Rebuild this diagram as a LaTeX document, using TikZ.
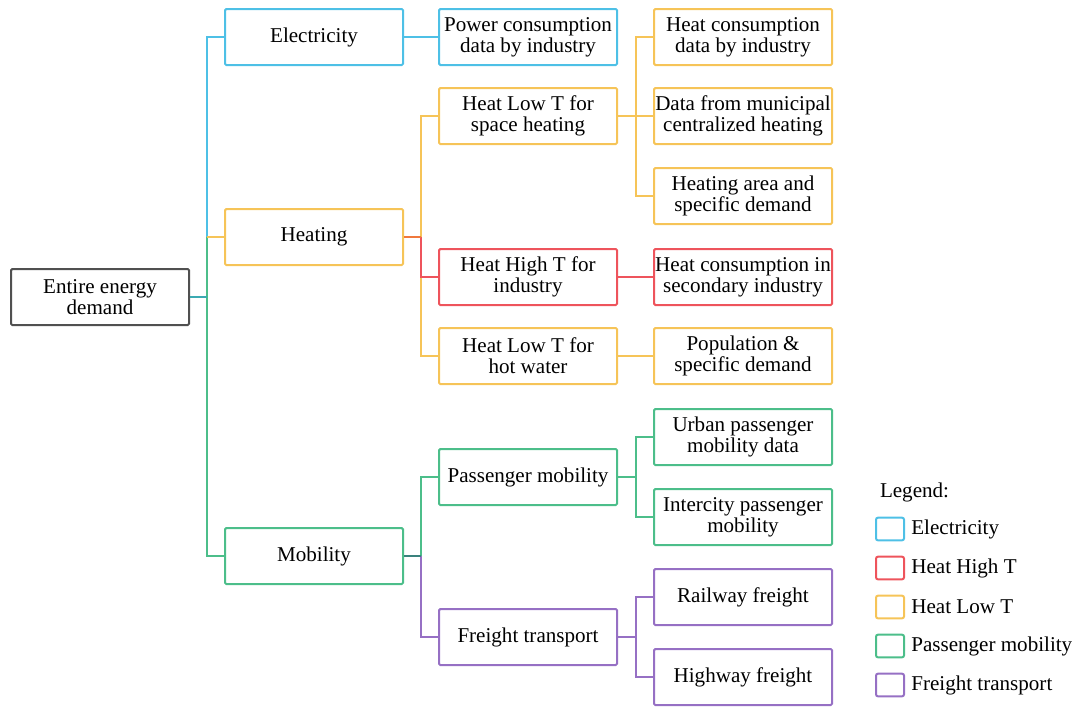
\documentclass[tikz,border=0pt]{standalone}
\usepackage{fontspec}
\setmainfont{Liberation Serif}
\usepackage{tikz}
\usetikzlibrary{positioning}
\usepackage{xcolor}

\definecolor{cblue}{RGB}{78,192,230}
\definecolor{cred}{RGB}{238,84,92}
\definecolor{corange}{RGB}{246,196,88}
\definecolor{cgreen}{RGB}{76,190,138}
\definecolor{cpurple}{RGB}{150,112,196}
\definecolor{cgray}{RGB}{80,80,80}
\definecolor{cteal}{RGB}{60,170,178}
\definecolor{cmix}{RGB}{240,120,60}
\definecolor{cdteal}{RGB}{58,130,125}

\begin{document}
\begin{tikzpicture}[x=0.75pt, y=-0.75pt, line width=1.5pt,
    box/.style={draw, rounded corners=1pt, minimum width=133.5pt, minimum height=42pt,
      inner sep=0pt, align=center, font=\fontsize{15.8}{16}\selectfont},
    legbox/.style={draw, rounded corners=1.5pt, minimum width=21pt, minimum height=17pt, inner sep=0pt},
    legtext/.style={font=\fontsize{15.8}{16}\selectfont, inner sep=0pt}]
      \useasboundingbox (0,0) rectangle (1078,707);

      % Root
      \node[box, draw=cgray] (root) at (100,297) {Entire energy\\demand};

      % Level 1
      \node[box, draw=cblue] (elec) at (314,37) {Electricity};
      \node[box, draw=corange] (heat) at (314,237) {Heating};
      \node[box, draw=cgreen] (mob) at (314,556) {Mobility};

      % Level 2
      \node[box, draw=cblue] (power) at (528,37) {Power consumption\\data by industry};
      \node[box, draw=corange] (lowspace) at (528,116) {Heat Low T for\\space heating};
      \node[box, draw=cred] (high) at (528,277) {Heat High T for\\industry};
      \node[box, draw=corange] (lowwater) at (528,356) {Heat Low T for\\hot water};
      \node[box, draw=cgreen] (pass) at (528,477) {Passenger mobility};
      \node[box, draw=cpurple] (freight) at (528,637) {Freight transport};

      % Level 3
      \node[box, draw=corange] (heatdata) at (743,37) {Heat consumption\\data by industry};
      \node[box, draw=corange] (municipal) at (743,116) {Data from municipal\\centralized heating};
      \node[box, draw=corange] (area) at (743,196) {Heating area and\\specific demand};
      \node[box, draw=cred] (secondary) at (743,277) {Heat consumption in\\secondary industry};
      \node[box, draw=corange] (popul) at (743,356) {Population \&\\specific demand};
      \node[box, draw=cgreen] (urban) at (743,437) {Urban passenger\\mobility data};
      \node[box, draw=cgreen] (intercity) at (743,517) {Intercity passenger\\mobility};
      \node[box, draw=cpurple] (railway) at (743,597) {Railway freight};
      \node[box, draw=cpurple] (highway) at (743,677) {Highway freight};

      % Junction points
      \coordinate (bus1) at (207,237);
      \coordinate (bus2) at (421,237);
      \coordinate (bus3) at (636,116);
      \coordinate (bus4) at (421,556);
      \coordinate (bus5) at (636,477);
      \coordinate (bus6) at (636,637);

      % Root to level 1
      \draw[cblue] (elec.west) -| (bus1);
      \draw[cgreen] (bus1) |- (mob.west);
      \draw[corange] (heat.west) -- (bus1);
      \draw[cteal] (root.east) -- (root.east -| bus1);

      % Electricity
      \draw[cblue] (elec.east) -- (power.west);

      % Heating
      \draw[corange] (lowspace.west) -| (bus2) |- (lowwater.west);
      \draw[cred] (bus2) |- (high.west);
      \draw[cmix] (heat.east) -- (bus2);
      \draw[corange] (heatdata.west) -| (bus3) |- (area.west);
      \draw[corange] (lowspace.east) -- (municipal.west);
      \draw[cred] (high.east) -- (secondary.west);
      \draw[corange] (lowwater.east) -- (popul.west);

      % Mobility
      \draw[cgreen] (pass.west) -| (bus4);
      \draw[cpurple] (bus4) |- (freight.west);
      \draw[cdteal] (mob.east) -- (bus4);
      \draw[cgreen] (urban.west) -| (bus5) |- (intercity.west);
      \draw[cgreen] (pass.east) -- (bus5);
      \draw[cpurple] (railway.west) -| (bus6) |- (highway.west);
      \draw[cpurple] (freight.east) -- (bus6);

      % Legend
      \node[legtext, anchor=west] (legend) at (879,492) {Legend:};
      \node[legbox, draw=cblue] (lg1) at (890,529) {};
      \node[legbox, draw=cred] (lg2) at (890,568) {};
      \node[legbox, draw=corange] (lg3) at (890,607) {};
      \node[legbox, draw=cgreen] (lg4) at (890,646) {};
      \node[legbox, draw=cpurple] (lg5) at (890,685) {};
      \node[legtext, right=4pt of lg1] {Electricity};
      \node[legtext, right=4pt of lg2] {Heat High T};
      \node[legtext, right=4pt of lg3] {Heat Low T};
      \node[legtext, right=4pt of lg4] {Passenger mobility};
      \node[legtext, right=4pt of lg5] {Freight transport};
\end{tikzpicture}
\end{document}
